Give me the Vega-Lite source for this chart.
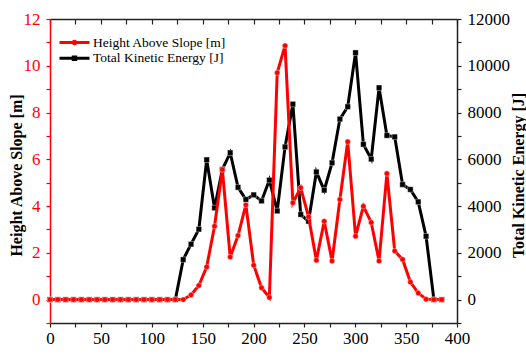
{
  "$schema": "https://vega.github.io/schema/vega-lite/v6.json",
  "width": 407,
  "height": 304,
  "autosize": {"type": "none"},
  "padding": {"left": 50, "top": 19, "right": 69, "bottom": 31},
  "background": "white",
  "config": {
    "font": "Liberation Serif",
    "view": {"stroke": null},
    "text": {"font": "Liberation Serif"},
    "axis": {
      "grid": false,
      "labelFont": "Liberation Serif",
      "titleFont": "Liberation Serif",
      "labelFontSize": 17,
      "titleFontSize": 16,
      "titleFontWeight": "bold",
      "titleColor": "black",
      "labelColor": "black",
      "domainColor": "#222222",
      "tickColor": "#222222",
      "domainWidth": 1.5,
      "tickWidth": 1.2,
      "labelFlush": false,
      "labelOverlap": false
    },
    "legend": {"labelFont": "Liberation Serif"}
  },
  "data": {
    "values": [
      {"t": 0, "h": 0, "ke": 0},
      {"t": 7.7, "h": 0, "ke": 0},
      {"t": 15.4, "h": 0, "ke": 0},
      {"t": 23.1, "h": 0, "ke": 0},
      {"t": 30.8, "h": 0, "ke": 0},
      {"t": 38.5, "h": 0, "ke": 0},
      {"t": 46.2, "h": 0, "ke": 0},
      {"t": 53.9, "h": 0, "ke": 0},
      {"t": 61.6, "h": 0, "ke": 0},
      {"t": 69.3, "h": 0, "ke": 0},
      {"t": 77, "h": 0, "ke": 0},
      {"t": 84.7, "h": 0, "ke": 0},
      {"t": 92.4, "h": 0, "ke": 0},
      {"t": 100.1, "h": 0, "ke": 0},
      {"t": 107.8, "h": 0, "ke": 0},
      {"t": 115.5, "h": 0, "ke": 0},
      {"t": 123.2, "h": 0, "ke": 0},
      {"t": 130.9, "h": 0, "ke": 1710},
      {"t": 138.6, "h": 0.2, "ke": 2370},
      {"t": 146.3, "h": 0.6, "ke": 3010},
      {"t": 154, "h": 1.4, "ke": 5980},
      {"t": 161.7, "h": 3.14, "ke": 3920},
      {"t": 169.4, "h": 5.56, "ke": 5570},
      {"t": 177.1, "h": 1.82, "ke": 6280},
      {"t": 184.8, "h": 2.74, "ke": 4800},
      {"t": 192.5, "h": 4.05, "ke": 4280},
      {"t": 200.2, "h": 1.47, "ke": 4480},
      {"t": 207.9, "h": 0.51, "ke": 4220},
      {"t": 215.6, "h": 0.09, "ke": 5110},
      {"t": 223.3, "h": 9.7, "ke": 3790},
      {"t": 231, "h": 10.86, "ke": 6530},
      {"t": 238.7, "h": 4.14, "ke": 8360},
      {"t": 246.4, "h": 4.78, "ke": 3640},
      {"t": 254.1, "h": 3.54, "ke": 3350},
      {"t": 261.8, "h": 1.68, "ke": 5460},
      {"t": 269.5, "h": 3.35, "ke": 4680},
      {"t": 277.2, "h": 1.65, "ke": 5850},
      {"t": 284.9, "h": 4.28, "ke": 7720},
      {"t": 292.6, "h": 6.75, "ke": 8250},
      {"t": 300.3, "h": 2.71, "ke": 10560},
      {"t": 308, "h": 3.99, "ke": 6640},
      {"t": 315.7, "h": 3.3, "ke": 6010},
      {"t": 323.4, "h": 1.65, "ke": 9060},
      {"t": 331.1, "h": 5.39, "ke": 7020},
      {"t": 338.8, "h": 2.08, "ke": 6960},
      {"t": 346.5, "h": 1.72, "ke": 4920},
      {"t": 354.2, "h": 0.75, "ke": 4710},
      {"t": 361.9, "h": 0.28, "ke": 4180},
      {"t": 369.6, "h": 0.02, "ke": 2710},
      {"t": 377.3, "h": 0, "ke": 0},
      {"t": 385, "h": 0, "ke": 0}
    ]
  },
  "resolve": {"scale": {"y": "independent"}, "axis": {"x": "independent"}},
  "layer": [
    {
      "mark": {"type": "line", "strokeWidth": 3, "strokeJoin": "miter",
        "point": {"shape": "square", "filled": true, "size": 30, "stroke": "#ffffff", "strokeWidth": 0.4, "opacity": 1}},
      "encoding": {
        "x": {"field": "t", "type": "quantitative", "scale": {"domain": [0, 400], "nice": false, "zero": false},
          "axis": {"orient": "top", "title": null, "labels": false, "values": [0,25,50,75,100,125,150,175,200,225,250,275,300,325,350,375,400], "tickSize": -5}},
        "y": {"field": "ke", "type": "quantitative", "scale": {"domain": [-1000, 12000], "nice": false, "zero": false},
          "axis": {"orient": "right", "title": "Total Kinetic Energy [J]", "values": [-1000,0,1000,2000,3000,4000,5000,6000,7000,8000,9000,10000,11000,12000],
            "labelExpr": "datum.value >= 0 && datum.value % 2000 == 0 ? format(datum.value, 'd') : ''",
            "labelFont": "Liberation Serif", "titleFont": "Liberation Serif",
            "tickSize": 4, "labelPadding": 6, "titleAngle": 270, "titleX": 61, "titleY": 156, "titleBaseline": "middle", "titleAlign": "center"}},
        "color": {"datum": "Total Kinetic Energy [J]", "type": "nominal",
          "scale": {"domain": ["Height Above Slope [m]", "Total Kinetic Energy [J]"], "range": ["#ff0000", "#000000"]},
          "legend": {
            "title": null, "orient": "none", "legendX": 17, "legendY": 16, "padding": 0,
            "symbolType": "M-2,-0.2L2,-0.2L2,0.2L-2,0.2Z", "symbolSize": 225, "symbolStrokeWidth": 0,
            "labelFont": "Liberation Serif", "labelFontSize": 13.5, "labelColor": "black", "labelOffset": 11, "rowPadding": 1.7,
            "encode": {"symbols": {"update": {
              "fill": {"scale": "color", "field": "value"},
              "stroke": {"value": "transparent"},
              "shape": {"signal": "datum.value == 'Height Above Slope [m]' ? 'M-2,-0.2L2,-0.2L2,0.2L-2,0.2Z M0.38,0A0.38,0.38 0 1,1 -0.38,0A0.38,0.38 0 1,1 0.38,0Z' : 'M-2,-0.2L2,-0.2L2,0.2L-2,0.2Z M-0.36,-0.36L0.36,-0.36L0.36,0.36L-0.36,0.36Z'"}
            }}}
          }}
      }
    },
    {
      "mark": {"type": "line", "strokeWidth": 3, "strokeJoin": "miter",
        "point": {"shape": "circle", "filled": true, "size": 30, "stroke": "#ffffff", "strokeWidth": 0.4, "opacity": 1}},
      "encoding": {
        "x": {"field": "t", "type": "quantitative", "scale": {"domain": [0, 400], "nice": false, "zero": false},
          "axis": {"orient": "bottom", "title": null, "values": [0,25,50,75,100,125,150,175,200,225,250,275,300,325,350,375,400],
            "labelFont": "Liberation Serif",
            "labelExpr": "datum.value % 50 == 0 ? datum.label : ''", "tickSize": 4, "labelPadding": 3}},
        "y": {"field": "h", "type": "quantitative", "scale": {"domain": [-1, 12], "nice": false, "zero": false},
          "axis": {"orient": "left", "title": "Height Above Slope [m]", "values": [-1,0,1,2,3,4,5,6,7,8,9,10,11,12],
            "labelExpr": "datum.value >= 0 && datum.value % 2 == 0 ? datum.label : ''",
            "labelFont": "Liberation Serif", "titleFont": "Liberation Serif",
            "tickSize": 4, "labelPadding": 6, "domainColor": "#ff0000", "tickColor": "#ff0000", "labelColor": "#ff0000",
            "titleX": -34, "titleY": 156, "titleBaseline": "middle", "titleAlign": "center", "titleAngle": 270}},
        "color": {"datum": "Height Above Slope [m]", "type": "nominal"}
      }
    }
  ]
}
